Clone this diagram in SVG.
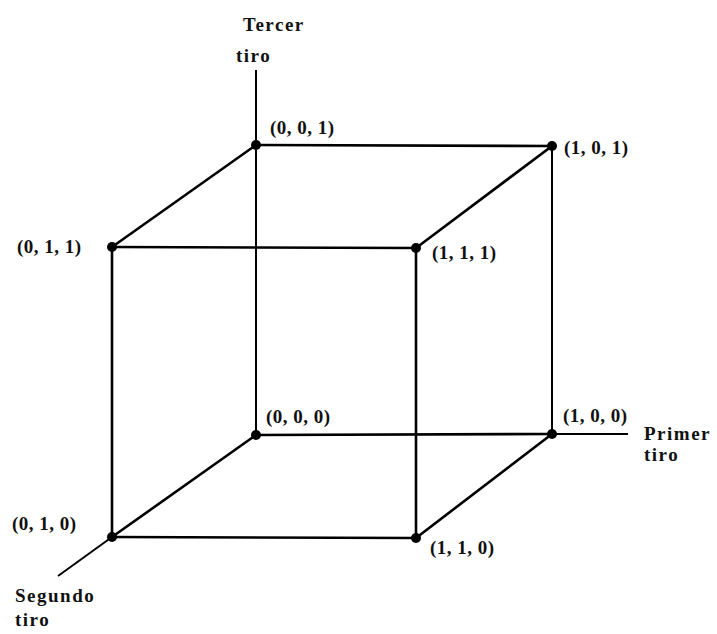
<svg xmlns="http://www.w3.org/2000/svg" width="717" height="634" viewBox="0 0 717 634">
<style>
.e{stroke:#000;stroke-width:2.6;fill:none;stroke-linecap:round}
.t{stroke:#000;stroke-width:2;fill:none}
.d{fill:#000}
text{font-family:"Liberation Serif","Times New Roman",serif;font-weight:bold;fill:#111}
.c{font-size:19px;letter-spacing:0.5px}
.a{font-size:19px;letter-spacing:1.5px}
</style>
<rect width="717" height="634" fill="#fff"/>
<g id="connectors">
<line class="t" x1="256" y1="70" x2="256" y2="435"/>
<line class="t" x1="552" y1="434" x2="628" y2="434"/>
<line class="t" x1="112" y1="537" x2="58" y2="576"/>
<line class="e" x1="256" y1="145" x2="552" y2="146"/>
<line class="e" x1="256" y1="145" x2="112" y2="247"/>
<line class="e" x1="552" y1="146" x2="416" y2="248"/>
<line class="e" x1="112" y1="247" x2="416" y2="248"/>
<line class="e" x1="112" y1="247" x2="112" y2="537"/>
<line class="e" x1="416" y1="248" x2="416" y2="538"/>
<line class="t" x1="552" y1="146" x2="552" y2="434"/>
<line class="e" x1="256" y1="435" x2="552" y2="434"/>
<line class="e" x1="256" y1="435" x2="112" y2="537"/>
<line class="e" x1="552" y1="434" x2="416" y2="538"/>
<line class="e" x1="112" y1="537" x2="416" y2="538"/>
</g>
<g id="axis-z"><text class="a" x="243" y="31">Tercer</text><text class="a" x="236" y="62">tiro</text></g>
<g id="axis-x"><text class="a" x="644" y="440">Primer</text><text class="a" x="644" y="461">tiro</text></g>
<g id="axis-y"><text class="a" x="15" y="602">Segundo</text><text class="a" x="15" y="626">tiro</text></g>
<g id="n001"><circle class="d" cx="256" cy="145" r="5"/><text class="c" x="270" y="134">(0, 0, 1)</text></g>
<g id="n101"><circle class="d" cx="552" cy="146" r="5"/><text class="c" x="564" y="154">(1, 0, 1)</text></g>
<g id="n011"><circle class="d" cx="112" cy="247" r="5"/><text class="c" x="17" y="253">(0, 1, 1)</text></g>
<g id="n111"><circle class="d" cx="416" cy="248" r="5"/><text class="c" x="432" y="259">(1, 1, 1)</text></g>
<g id="n000"><circle class="d" cx="256" cy="435" r="5"/><text class="c" x="266" y="423">(0, 0, 0)</text></g>
<g id="n100"><circle class="d" cx="552" cy="434" r="5"/><text class="c" x="563" y="422">(1, 0, 0)</text></g>
<g id="n010"><circle class="d" cx="112" cy="537" r="5"/><text class="c" x="12" y="530">(0, 1, 0)</text></g>
<g id="n110"><circle class="d" cx="416" cy="538" r="5"/><text class="c" x="430" y="554">(1, 1, 0)</text></g>
</svg>
